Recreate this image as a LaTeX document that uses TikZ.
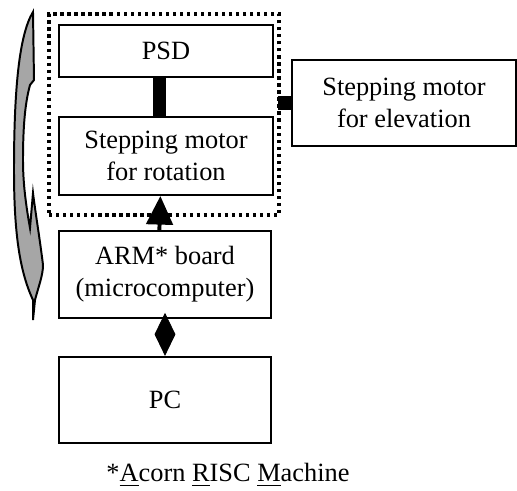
\documentclass[tikz,border=0pt]{standalone}
\usepackage{fontspec}
\setmainfont{Liberation Serif}
\usetikzlibrary{arrows.meta}
\begin{document}
\begin{tikzpicture}[
        x=0.16cm, y=-0.16cm,
        block/.style={draw, line width=0.9pt, minimum width=3.42cm, minimum height=0.83cm, align=center, font=\fontsize{12}{14.5}\selectfont},
        tallblock/.style={block, minimum height=1.38cm},
        frame/.style={draw, line width=1.5pt, dash pattern=on 1.5pt off 1.7pt, minimum width=3.68cm, minimum height=3.22cm},
        bar/.style={line width=5.9pt},
        line/.style={line width=1.8pt}
    ]

    \useasboundingbox (0,0) rectangle (51.7,49.1);

    % Rotating head (dotted)
    \node[frame] (head) at (16.4,11.45) {};

    % PSD
    \node[block] (psd) at (16.6,5.1) {PSD};

    % Stepping motor for rotation
    \node[block, minimum height=1.25cm] (rot) at (16.6,15.6) {Stepping motor\\for rotation};

    % Stepping motor for elevation
    \node[tallblock, minimum width=3.58cm] (elev) at (40.4,10.3) {Stepping motor\\for elevation};

    % ARM board
    \node[tallblock, minimum width=3.39cm] (arm) at (16.5,27.45) {ARM* board\\(microcomputer)};

    % PC
    \node[tallblock, minimum width=3.39cm] (pc) at (16.5,40) {PC};

    % Links
    \draw[bar] ([xshift=-0.1cm]psd.south) -- ([xshift=-0.1cm]rot.north);
    \draw[line width=6.8pt, shorten <=-1.4pt] (head.east |- elev.west) -- (elev.west);
    \draw[line, -{Triangle[width=12pt,length=13pt]}] ([xshift=-0.09cm]arm.north) -- ([xshift=-0.09cm]rot.south);
    \draw[line width=0.4pt, -{Kite[width=9.5pt,length=19.6pt,inset=9.8pt]}] (arm.south) -- (pc.north);

    % Rotation arrow
    \draw[line width=0.9pt, fill=gray!70] (3.3,1.2)
        .. controls (1.9,3.5) and (1.4,9) .. (1.4,17)
        .. controls (1.4,23) and (1.9,27) .. (3.3,30)
        -- (3.3,32) -- (3.5,30)
        .. controls (3.9,28.5) and (4.3,27.5) .. (4.3,26.5)
        .. controls (4.0,24) and (3.5,21) .. (3.3,19.3)
        -- (3.0,22.8)
        .. controls (2.5,20) and (2.3,18) .. (2.3,16)
        .. controls (2.3,12) and (2.6,10) .. (3.0,8.5)
        -- (3.4,8.0) -- cycle;

    % Footnote
    \node[font=\fontsize{12}{14.5}\selectfont] (note) at (22.8,47.5) {*\underline{A}corn \underline{R}ISC \underline{M}achine};

\end{tikzpicture}
\end{document}
